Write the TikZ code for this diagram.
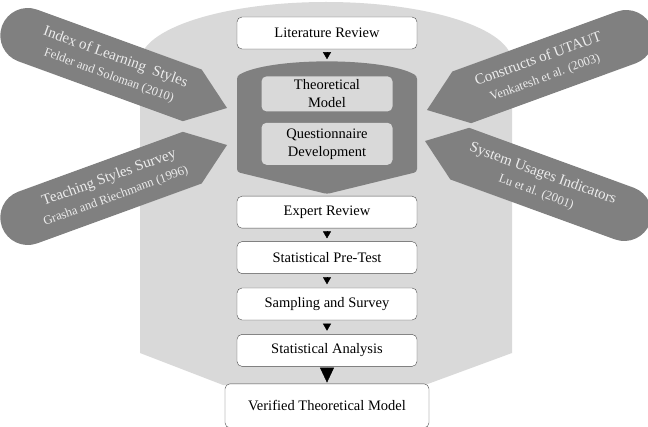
\documentclass[tikz,border=0pt]{standalone}
\usepackage{fontspec}
\setmainfont{Liberation Serif}
\usetikzlibrary{positioning, arrows.meta}
\tikzset{
    stage/.style={draw=gray!60!black, fill=white, rounded corners=5pt, minimum width=180pt, minimum height=32pt, inner sep=2pt, align=center, font=\fontsize{14.5}{18}\selectfont}, % the white boxes of the flow
    inner stage/.style={fill=gray!30, rounded corners=5pt, minimum width=131pt, inner sep=2pt, align=center, font=\fontsize{14.5}{18}\selectfont},
    flowtip/.style={-{Triangle[length=7pt,width=8pt]}, black},
    bigtip/.style={-{Triangle[length=15pt,width=14pt]}, black},
    source/.style={fill=gray},
    source text/.style={text=gray!15, align=center, font=\fontsize{15}{17}\selectfont}
}
% a grey arrow with a round back end: name, tip, angle, text angle, first line, second line
\newcommand{\srcarrow}[6]{%
    \begin{scope}[shift={#2}, rotate=#3]
        \fill[source] (0,0) -- (-37,27.5) -- (-212,27.5) arc[start angle=90, end angle=270, radius=27.5] -- (-37,-27.5) -- cycle;
        \node[source text, rotate=#4] (#1) at (-122,0) {#5\\[2pt]{\fontsize{12.5}{15}\selectfont #6}};
    \end{scope}}

\begin{document}
\begin{tikzpicture}[x=1pt, y=1pt]

        \clip (0,0) rectangle (648,426);

        % background
        \fill[gray!30] (223,41) -- (140,73) -- (140,364) arc[start angle=180, end angle=0, x radius=186, y radius=60] -- (512,73) -- (425,41) -- cycle;

        % the four sources
        \srcarrow{ils}{(227,318)}{-20}{-20}{Index of Learning\ \ Styles}{Felder and Soloman (2010)}
        \srcarrow{tss}{(227,281)}{20}{20}{Teaching Styles Survey}{Grasha and Riechmann (1996)}
        \srcarrow{utaut}{(427,316)}{200}{20}{Constructs of UTAUT}{Venkatesh et al. (2003)}
        \srcarrow{sui}{(425,285)}{160}{-20}{System Usages Indicators}{Lu et al. (2001)}

        % model block
        \fill[gray, rounded corners=3pt] (237,254) -- (237,350) .. controls (270,369) and (384,369) .. (417,350) -- (417,254) -- (327,232) -- cycle;

        \node[stage] (lit) at (327,393) {Literature Review};
        \node[inner stage, minimum height=35pt, below=27pt of lit] (tm) {Theoretical\\Model};
        \node[inner stage, minimum height=42pt, below=11pt of tm] (qd) {Questionnaire\\Development};
        \node[stage, below=31pt of qd] (er) {Expert Review};
        \node[stage, below=13pt of er] (spt) {Statistical Pre-Test};
        \node[stage, below=14pt of spt] (ss) {Sampling and Survey};
        \node[stage, below=14pt of ss] (sa) {Statistical Analysis};
        \node[stage, minimum width=204pt, minimum height=44pt, below=17pt of sa] (vtm) {Verified Theoretical Model};

        \draw[flowtip, shorten <=3pt, shorten >=17pt] (lit) -- (tm);
        \draw[flowtip, shorten <=3pt, shorten >=3pt] (er) -- (spt);
        \draw[flowtip, shorten <=3.5pt, shorten >=3.5pt] (spt) -- (ss);
        \draw[flowtip, shorten <=3.5pt, shorten >=3.5pt] (ss) -- (sa);
        \draw[bigtip, shorten <=1pt, shorten >=1pt] (sa) -- (vtm);

    \end{tikzpicture}
\end{document}
